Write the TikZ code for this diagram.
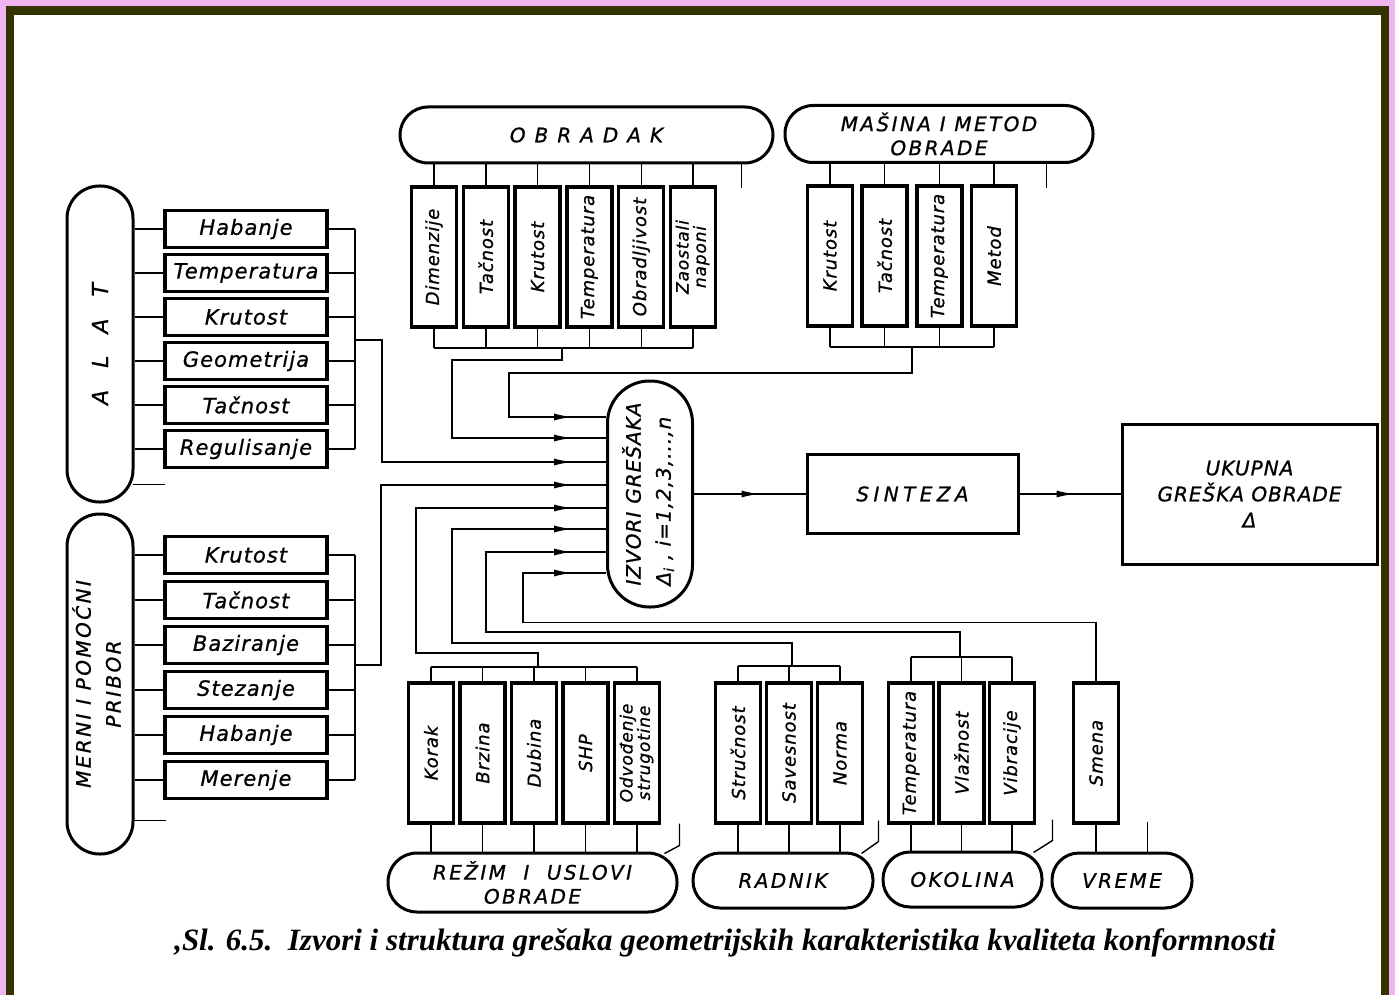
\documentclass[tikz,border=0pt]{standalone}
\usepackage{fontspec}
\setmainfont{Liberation Serif}
\setsansfont{DejaVu Sans}[LetterSpace=5, FakeBold=0.8]
\usepackage{graphicx}
\usepackage{tikz}
\usetikzlibrary{arrows.meta, positioning, decorations.markings, calc}
\definecolor{Pink}{HTML}{F0B4F0}
\definecolor{Olive}{HTML}{333300}
\newcommand{\twoline}[2]{{\fontsize{17}{15}\selectfont\begin{tabular}{@{}c@{}}#1\\#2\end{tabular}}}

\tikzset{
  box/.style={draw, line width=3.5pt, inner sep=0pt, align=center,
    font=\sffamily\itshape\fontsize{21}{24}\selectfont},
  hbox/.style={box, minimum width=162pt, minimum height=37pt},
  vbox/.style={box, minimum width=45pt, minimum height=140pt,
    font=\sffamily\itshape\fontsize{18}{20}\selectfont},
  pill/.style={draw, line width=3pt, inner sep=0pt, align=center,
    font=\sffamily\itshape\fontsize{20}{24}\selectfont\addfontfeature{LetterSpace=12}},
  wire/.style={line width=1.4pt},
  feed/.style={wire, decoration={markings,
    mark=at position -34pt with {\arrow{Latex[length=18pt,width=7pt]}}},
    postaction={decorate}},
  lead/.style={wire, decoration={markings,
    mark=at position -46pt with {\arrow{Latex[length=18pt,width=7pt]}}},
    postaction={decorate}},
}

\begin{document}
\begin{tikzpicture}[x=1pt, y=-1pt, >=Latex]
  % frame
  \fill[Pink] (0,0) rectangle (1395,995);
  \fill[Olive] (6,6) rectangle (1389,995);
  \fill[white] (14,15) rectangle (1381,995);
  \useasboundingbox (0,0) rectangle (1395,995);

  % ALAT
  \node[pill, rounded corners=32.5pt, minimum width=66pt, minimum height=316pt,
    font=\sffamily\itshape\fontsize{22}{24}\selectfont] (alat) at (100,344)
    {\rotatebox{90}{A\hspace{22pt}L\hspace{22pt}A\hspace{22pt}T}};
  \coordinate (abus) at (355,340);
  \foreach \t [count=\i] in {Habanje, Temperatura, Krutost, Geometrija, Tačnost, Regulisanje} {
    \node[hbox] (a\i) at (246, 185+44*\i) {\t};
    \draw[wire] (alat.east |- a\i.west) -- (a\i.west);
    \draw[wire] (a\i.east) -- (a\i.east -| abus);
  }
  \draw[wire] (a1.east -| abus) -- (a6.east -| abus);
  \draw[wire] ([xshift=-2pt,yshift=19pt]alat.south east) -- ++(32,0);

  % MERNI I POMOCNI PRIBOR
  \node[pill, rounded corners=32.5pt, minimum width=66pt, minimum height=340pt] (merni) at (100,684)
    {\rotatebox{90}{\begin{tabular}{@{}c@{}}MERNI I POMOĆNI\\[6pt]PRIBOR\end{tabular}}};
  \coordinate (mbus) at (355,665);
  \foreach \t [count=\i] in {Krutost, Tačnost, Baziranje, Stezanje, Habanje, Merenje} {
    \node[hbox] (m\i) at (246, 510+45*\i) {\t};
    \draw[wire] (merni.east |- m\i.west) -- (m\i.west);
    \draw[wire] (m\i.east) -- (m\i.east -| mbus);
  }
  \draw[wire] (m1.east -| mbus) -- (m6.east -| mbus);
  \draw[wire] ([xshift=-1pt,yshift=35pt]merni.south east) -- ++(32,0);

  % OBRADAK
  \node[pill, rounded corners=28pt, minimum width=373pt, minimum height=56pt] (obr) at (586.5,135)
    {O\hspace{9pt}B\hspace{9pt}R\hspace{9pt}A\hspace{9pt}D\hspace{9pt}A\hspace{9pt}K};
  \coordinate (obus) at (562,348);
  \foreach \t [count=\i] in {Dimenzije, Tačnost, Krutost, Temperatura, Obradljivost,
      {\twoline{Zaostali}{naponi}}} {
    \node[vbox] (o\i) at (382.2+51.8*\i, 257) {\rotatebox{90}{\t}};
    \draw[wire] (o\i.north) -- (o\i.north |- obr.south);
    \draw[wire] (o\i.south) -- (o\i.south |- obus);
  }
  \draw[wire] (o1.south |- obus) -- (o6.south |- obus);
  \draw[wire] ([xshift=-33pt]obr.south east) -- ++(0,24);

  % MASINA I METOD OBRADE
  \node[pill, rounded corners=28pt, minimum width=308pt, minimum height=57pt] (mas) at (939,134)
    {MAŠINA I METOD\\OBRADE};
  \coordinate (sbus) at (912,347);
  \foreach \t [count=\i] in {Krutost, Tačnost, Temperatura, Metod} {
    \node[vbox] (s\i) at (775.3+54.7*\i, 256) {\rotatebox{90}{\t}};
    \draw[wire] (s\i.north) -- (s\i.north |- mas.south);
    \draw[wire] (s\i.south) -- (s\i.south |- sbus);
  }
  \draw[wire] (s1.south |- sbus) -- (s4.south |- sbus);
  \draw[wire] ([xshift=-48pt]mas.south east) -- ++(0,24);

  % IZVORI, SINTEZA, UKUPNA
  \node[pill, rounded corners=42pt, minimum width=85pt, minimum height=226pt,
    font=\sffamily\itshape\fontsize{20}{24}\selectfont] (izv) at (650,494)
    {\rotatebox{90}{\begin{tabular}{@{}l@{}}IZVORI\hspace{8pt}GREŠAKA\\[6pt]%
      Δ\textsubscript{i} , i=1,2,3,...,n\end{tabular}}};
  \node[box, line width=3pt, minimum width=211pt, minimum height=79pt,
    font=\sffamily\itshape\fontsize{20}{24}\selectfont\addfontfeature{LetterSpace=22}] (sin) at (912.5,494) {SINTEZA};
  \node[box, line width=3pt, minimum width=255pt, minimum height=140pt,
    font=\sffamily\itshape\fontsize{20}{26}\selectfont] (uk) at (1249.5,494) {UKUPNA\\GREŠKA OBRADE\\Δ};
  \draw[lead] (izv.east) -- (sin.west);
  \draw[lead] (sin.east) -- (uk.west);
  \foreach \y [count=\i] in {417,438,462,485,508,529,552,573}
    \coordinate (in\i) at (izv.west |- 0,\y);

  % REZIM I USLOVI OBRADE
  \node[pill, rounded corners=29pt, minimum width=289pt, minimum height=59pt] (rez) at (532.5,882.5)
    {REŽIM\ \ I\ \ USLOVI\\OBRADE};
  \coordinate (rbus) at (538,667);
  \foreach \t [count=\i] in {Korak, Brzina, Dubina, SHP, {\twoline{Odvođenje}{strugotine}}} {
    \node[vbox] (r\i) at (379.5+51.5*\i, 753) {\rotatebox{90}{\t}};
    \draw[wire] (r\i.north) -- (r\i.north |- rbus);
    \draw[wire] (r\i.south) -- (r\i.south |- rez.north);
  }
  \draw[wire] (r1.north |- rbus) -- (r5.north |- rbus);
  \draw[wire] ([xshift=-14pt,yshift=-2pt]rez.north east) -- ++(15,-8) -- ++(0,-22);

  % RADNIK
  \node[pill, rounded corners=27pt, minimum width=180pt, minimum height=55pt] (rad) at (783,880.5) {RADNIK};
  \coordinate (dbus) at (792,666);
  \foreach \t [count=\i] in {Stručnost, Savesnost, Norma} {
    \node[vbox] (d\i) at (687+51*\i, 753) {\rotatebox{90}{\t}};
    \draw[wire] (d\i.north) -- (d\i.north |- dbus);
    \draw[wire] (d\i.south) -- (d\i.south |- rad.north);
  }
  \draw[wire] (d1.north |- dbus) -- (d3.north |- dbus);
  \draw[wire] ([xshift=-13pt,yshift=-2pt]rad.north east) -- ++(17,-12) -- ++(0,-21);

  % OKOLINA
  \node[pill, rounded corners=27pt, minimum width=159pt, minimum height=55pt] (oko) at (962.5,879.5) {OKOLINA};
  \coordinate (kbus) at (960,657);
  \foreach \t [count=\i] in {Temperatura, Vlažnost, Vibracije} {
    \node[vbox] (k\i) at (860.5+50.5*\i, 753) {\rotatebox{90}{\t}};
    \draw[wire] (k\i.north) -- (k\i.north |- kbus);
    \draw[wire] (k\i.south) -- (k\i.south |- oko.north);
  }
  \draw[wire] (k1.north |- kbus) -- (k3.north |- kbus);
  \draw[wire] ([xshift=-10pt,yshift=-2pt]oko.north east) -- ++(19,-12) -- ++(0,-21);

  % VREME
  \node[pill, rounded corners=27pt, minimum width=140pt, minimum height=55pt] (vre) at (1122,880.5) {VREME};
  \node[vbox] (v1) at (1096,753) {\rotatebox{90}{Smena}};
  \draw[wire] (v1.south) -- (v1.south |- vre.north);
  \draw[wire] ([xshift=-46pt]vre.north east) -- ++(0,-30);

  % sources into IZVORI
  \draw[feed] (sbus) -- ++(0,26) -- ++(-403,0) |- (in1);
  \draw[feed] (obus) -- ++(0,12) -- ++(-110,0) |- (in2);
  \draw[feed] (abus) -- ++(27,0) |- (in3);
  \draw[feed] (mbus) -- ++(26,0) |- (in4);
  \draw[feed] (rbus) -- ++(0,-14) -- ++(-122,0) |- (in5);
  \draw[feed] (dbus) -- ++(0,-23) -- ++(-340,0) |- (in6);
  \draw[feed] (kbus) -- ++(0,-25) -- ++(-474,0) |- (in7);
  \draw[feed] (v1.north) -- ++(0,-59) -- ++(-573,0) |- (in8);

  % caption
  \node[font=\fontsize{31}{34}\selectfont\bfseries\itshape] (cap) at (725,943)
    {,Sl. 6.5.\ \ Izvori i struktura grešaka geometrijskih karakteristika kvaliteta konformnosti};
\end{tikzpicture}
\end{document}
